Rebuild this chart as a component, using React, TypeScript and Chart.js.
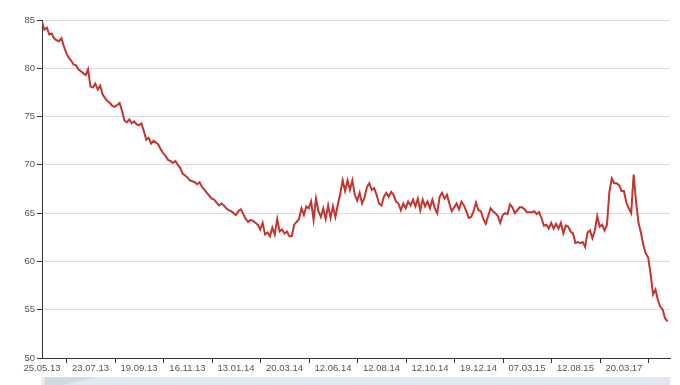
import React, { useEffect, useRef } from 'react';
import { Chart, registerables } from 'chart.js';

Chart.register(...registerables);

// Date labels shown on the category axis (one every POINTS_PER_LABEL points)
const tickLabels = [
  '25.05.13', '23.07.13', '19.09.13', '16.11.13', '13.01.14', '20.03.14', '12.06.14',
  '12.08.14', '12.10.14', '19.12.14', '07.03.15', '12.08.15', '20.03.17',
];
const POINTS_PER_LABEL = 20;

// Y axis range
const yMin = 50;
const yMax = 85;
const yStep = 5;

// Series values
const values = [
  84.8, 84.0, 84.2, 83.5, 83.6, 83.1, 82.9, 82.8, 83.1, 82.3, 81.6, 81.1, 80.8, 80.4, 80.3, 79.9, 79.7, 79.5, 79.3, 79.9,
  78.1, 78.0, 78.4, 77.8, 78.2, 77.3, 76.9, 76.6, 76.4, 76.1, 76.0, 76.2, 76.4, 75.6, 74.6, 74.4, 74.7, 74.3, 74.5, 74.2,
  74.1, 74.3, 73.5, 72.6, 72.8, 72.2, 72.5, 72.3, 72.1, 71.6, 71.2, 70.9, 70.5, 70.4, 70.2, 70.4, 70.0, 69.7, 69.1, 68.9,
  68.7, 68.4, 68.3, 68.2, 68.0, 68.2, 67.7, 67.4, 67.1, 66.8, 66.5, 66.4, 66.1, 65.8, 66.0, 65.8, 65.5, 65.3, 65.2, 65.0,
  64.8, 65.2, 65.4, 64.9, 64.4, 64.1, 64.3, 64.2, 64.0, 63.8, 63.3, 64.0, 62.8, 63.0, 62.6, 63.5, 62.8, 64.4, 63.1, 63.3,
  62.9, 63.1, 62.6, 62.6, 63.8, 64.1, 64.4, 65.5, 64.8, 65.7, 65.5, 66.2, 64.3, 66.5, 65.2, 64.6, 65.5, 64.4, 65.8, 64.5,
  65.7, 64.6, 65.9, 67.0, 68.4, 67.3, 68.4, 67.4, 68.4, 66.9, 66.3, 67.1, 66.0, 66.6, 67.7, 68.1, 67.4, 67.6, 66.9, 66.0,
  65.8, 66.7, 67.1, 66.7, 67.2, 66.9, 66.2, 66.0, 65.3, 66.0, 65.5, 66.2, 65.8, 66.4, 65.7, 66.5, 65.3, 66.4, 65.7, 66.2,
  65.5, 66.4, 65.5, 65.0, 66.7, 67.1, 66.5, 66.9, 66.0, 65.2, 65.6, 66.0, 65.4, 66.2, 65.8, 65.2, 64.5, 64.6, 65.2, 66.1,
  65.3, 65.2, 64.4, 63.9, 64.7, 65.5, 65.2, 65.0, 64.7, 64.0, 64.8, 65.0, 64.9, 65.9, 65.6, 65.0, 65.3, 65.6, 65.6, 65.4,
  65.1, 65.1, 65.1, 65.2, 64.9, 65.1, 64.5, 63.7, 63.8, 63.4, 64.0, 63.4, 63.9, 63.4, 64.0, 62.9, 63.7, 63.6, 63.1, 62.9,
  61.9, 62.0, 61.9, 62.0, 61.5, 63.0, 63.2, 62.4, 63.2, 64.7, 63.6, 63.8, 63.2, 63.8, 67.2, 68.6, 68.1, 68.1, 67.9, 67.3,
  67.3, 66.1, 65.5, 65.0, 69.0, 66.2, 64.0, 63.0, 61.7, 60.8, 60.4, 58.7, 56.6, 57.1, 56.0, 55.3, 55.0, 54.1, 53.8,
];

const FONT = { family: '"Liberation Sans", Arial, sans-serif', size: 9.5 };
const TEXT_COLOR = '#555';
const AXIS_COLOR = '#333';

const extrasPlugin = {
  id: 'extras',
  afterDraw(chart: any) {
    const { ctx, chartArea } = chart;
    const xs = chart.scales.x;
    ctx.save();
    // x-axis tick marks between labels
    ctx.strokeStyle = AXIS_COLOR;
    ctx.lineWidth = 1;
    for (let k = 0; k < tickLabels.length; k++) {
      const v = k * POINTS_PER_LABEL + POINTS_PER_LABEL / 2;
      if (v > values.length - 1) continue;
      const px = Math.round(xs.getPixelForValue(v)) + 0.5;
      ctx.beginPath();
      ctx.moveTo(px, chartArea.bottom);
      ctx.lineTo(px, chartArea.bottom + 5);
      ctx.stroke();
    }
    // data zoom slider strip at the bottom
    const top = chartArea.bottom + 19;
    ctx.fillStyle = '#e1e6f0';
    ctx.fillRect(chartArea.left, top, chartArea.right - chartArea.left, chart.height - top);
    ctx.fillStyle = 'rgba(180,192,215,0.35)';
    ctx.beginPath();
    ctx.moveTo(chartArea.left + 3, top);
    ctx.lineTo(chartArea.left + 55, top);
    ctx.lineTo(chartArea.left + 20, chart.height);
    ctx.lineTo(chartArea.left + 3, chart.height);
    ctx.closePath();
    ctx.fill();
    ctx.restore();
  },
};

export default function App() {
  const canvasRef = useRef<HTMLCanvasElement | null>(null);

  useEffect(() => {
    if (!canvasRef.current) return;
    const chart = new Chart(canvasRef.current, {
      type: 'line',
      data: {
        datasets: [
          {
            data: values.map((v, i) => ({ x: i, y: v })),
            borderColor: '#c23531',
            borderWidth: 2,
            pointRadius: 0,
            tension: 0,
            fill: false,
          },
        ],
      },
      options: {
        animation: false,
        responsive: false,
        layout: { padding: { left: 0, right: 10, top: 20, bottom: 0 } },
        plugins: { legend: { display: false }, tooltip: { enabled: false } },
        scales: {
          x: {
            type: 'linear',
            min: 0,
            max: values.length,
            afterBuildTicks: (s: any) => {
              s.ticks = tickLabels.map((_, k) => ({ value: k * POINTS_PER_LABEL }));
            },
            afterFit: (s: any) => {
              s.height = 27;
            },
            grid: { display: true, drawOnChartArea: false, drawTicks: false },
            border: { display: true, color: AXIS_COLOR, width: 1 },
            ticks: {
              autoSkip: false,
              maxRotation: 0,
              padding: 5,
              color: TEXT_COLOR,
              font: FONT,
              callback: (v: any) => tickLabels[Math.round(Number(v) / POINTS_PER_LABEL)] ?? '',
            },
          },
          y: {
            min: yMin,
            max: yMax,
            afterFit: (s: any) => {
              s.width = 42;
            },
            ticks: { stepSize: yStep, padding: 2, color: TEXT_COLOR, font: FONT },
            grid: { color: '#dcdcdc', tickColor: AXIS_COLOR, tickLength: 5, lineWidth: 1 },
            border: { display: true, color: AXIS_COLOR, width: 1 },
          },
        },
      },
      plugins: [extrasPlugin],
    });
    return () => chart.destroy();
  }, []);

  return (
    <div style={{ position: 'fixed', left: 0, top: 0, width: 680, height: 385, background: '#fff' }}>
      <canvas ref={canvasRef} width={680} height={385} style={{ display: 'block' }} />
    </div>
  );
}
